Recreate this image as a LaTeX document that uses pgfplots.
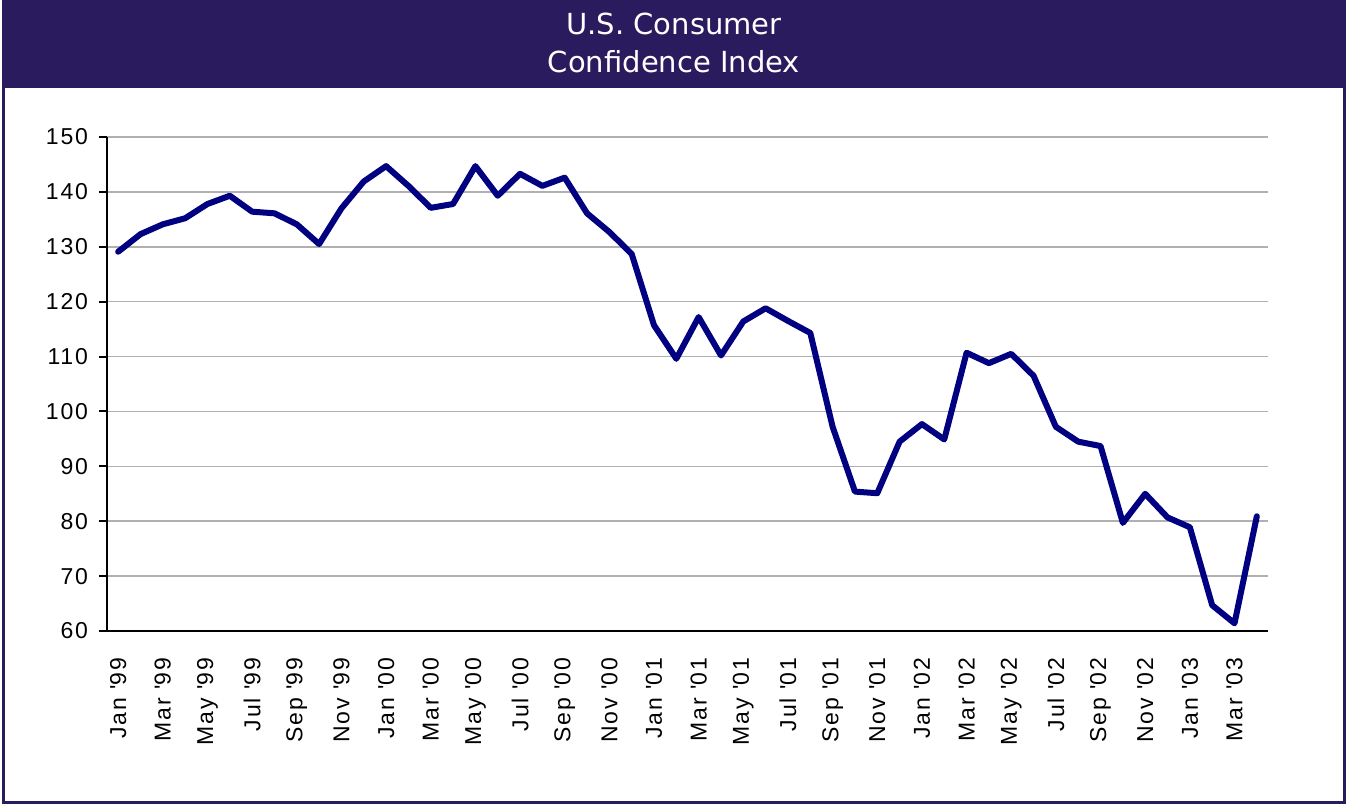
\documentclass[border=0pt]{standalone}
\usepackage{pgfplots}
\pgfplotsset{compat=1.18}
\usepackage{fontspec}
\setmainfont{Liberation Sans}
\newfontfamily\tickfont[LetterSpace=8]{Liberation Sans}
\newfontfamily\titlefont{DejaVu Sans}
\definecolor{band}{HTML}{2A1A5E}
\definecolor{navyline}{HTML}{000080}
\definecolor{gridc}{HTML}{B0B0B0}
\pgfplotstableread{
x y
0 129.1
1 132.3
2 134.1
3 135.2
4 137.8
5 139.3
6 136.4
7 136.1
8 134.1
9 130.5
10 137.0
11 141.9
12 144.7
13 141.1
14 137.1
15 137.8
16 144.7
17 139.3
18 143.3
19 141.1
20 142.6
21 136.1
22 132.7
23 128.7
24 115.7
25 109.6
26 117.2
27 110.2
28 116.4
29 118.8
30 116.5
31 114.3
32 97.2
33 85.4
34 85.1
35 94.5
36 97.7
37 94.9
38 110.7
39 108.8
40 110.5
41 106.5
42 97.2
43 94.5
44 93.7
45 79.7
46 85.0
47 80.7
48 78.9
49 64.7
50 61.4
51 80.9
}\cci
\begin{document}
\begin{tikzpicture}
\useasboundingbox (-53.5pt,-86.5pt) rectangle (620.5pt,315.5pt);
\fill[white] (-51.5pt,-85.5pt) rectangle (618.5pt,314.5pt);
\fill[band] (-51.5pt,271.5pt) rectangle (618.5pt,314.5pt);
\draw[band, line width=1.5pt] (-51.5pt,-85.5pt) rectangle (618.5pt,314.5pt);
\node[text=white, font=\titlefont\fontsize{14.5}{17}\selectfont] at (283.5pt,303.5pt) {U.S. Consumer};
\node[text=white, font=\titlefont\fontsize{14.5}{17}\selectfont] at (283.5pt,284.5pt) {Confidence Index};
\begin{axis}[
  at={(0pt,0pt)}, anchor=south west,
  scale only axis, width=580.5pt, height=247pt,
  xmin=-0.5, xmax=51.5, ymin=60, ymax=150,
  axis x line*=bottom, axis y line*=left,
  axis line style={line width=1pt, black},
  ytick={60,70,...,150},
  ymajorgrids, grid style={gridc, line width=0.75pt},
  tick align=outside, major tick length=4pt,
  ytick style={black, line width=1pt},
  xtick style={draw=none},
  xtick={0,2,...,50},
  xticklabels={Jan \textquotesingle99, Mar \textquotesingle99, May \textquotesingle99, Jul \textquotesingle99, Sep \textquotesingle99, Nov \textquotesingle99,
    Jan \textquotesingle00, Mar \textquotesingle00, May \textquotesingle00, Jul \textquotesingle00, Sep \textquotesingle00, Nov \textquotesingle00,
    Jan \textquotesingle01, Mar \textquotesingle01, May \textquotesingle01, Jul \textquotesingle01, Sep \textquotesingle01, Nov \textquotesingle01,
    Jan \textquotesingle02, Mar \textquotesingle02, May \textquotesingle02, Jul \textquotesingle02, Sep \textquotesingle02, Nov \textquotesingle02,
    Jan \textquotesingle03, Mar \textquotesingle03},
  xticklabel shift=6pt,
  xticklabel style={rotate=90, anchor=east, font=\tickfont\fontsize{11.5}{13}\selectfont},
  yticklabel style={font=\tickfont\fontsize{11.5}{13}\selectfont, xshift=-2pt},
  /pgf/number format/assume math mode=true,
  clip=false,
]
\addplot[navyline, line width=3pt, line join=round, line cap=round] table[x=x,y=y] {\cci};
\end{axis}
\end{tikzpicture}
\end{document}
